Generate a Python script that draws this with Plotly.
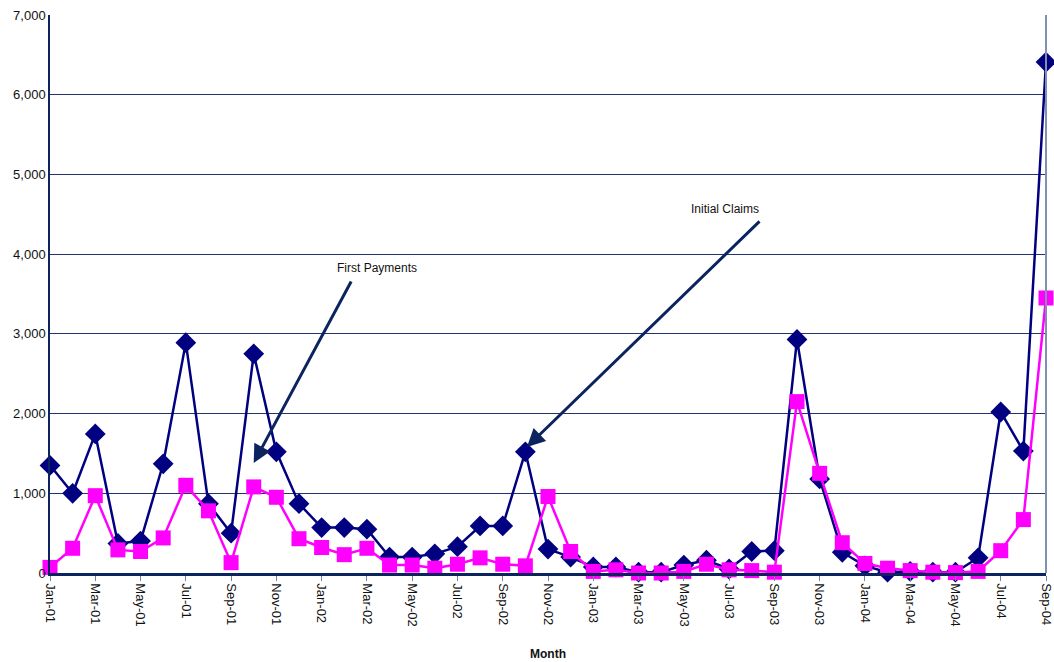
import plotly.graph_objects as go

months = ["Jan-01","Feb-01","Mar-01","Apr-01","May-01","Jun-01","Jul-01","Aug-01","Sep-01","Oct-01","Nov-01","Dec-01",
          "Jan-02","Feb-02","Mar-02","Apr-02","May-02","Jun-02","Jul-02","Aug-02","Sep-02","Oct-02","Nov-02","Dec-02",
          "Jan-03","Feb-03","Mar-03","Apr-03","May-03","Jun-03","Jul-03","Aug-03","Sep-03","Oct-03","Nov-03","Dec-03",
          "Jan-04","Feb-04","Mar-04","Apr-04","May-04","Jun-04","Jul-04","Aug-04","Sep-04"]

initial_claims = [1350, 1000, 1745, 370, 400, 1370, 2890, 870, 500, 2750, 1520, 870,
                  570, 570, 550, 200, 200, 240, 330, 590, 590, 1520, 300, 200,
                  75, 75, 10, 10, 100, 160, 50, 270, 280, 2930, 1180, 260,
                  90, 10, 20, 10, 10, 190, 2020, 1530, 6410]

first_payments = [70, 310, 970, 290, 270, 440, 1100, 780, 130, 1080, 950, 430,
                  320, 230, 310, 100, 100, 60, 110, 190, 110, 90, 960, 270,
                  20, 40, 0, 0, 20, 110, 40, 30, 10, 2150, 1250, 380,
                  120, 60, 30, 10, 5, 20, 280, 670, 3450]

tick_labels = months[::2]

navy = "#000080"
magenta = "#FF00FF"
arrow_col = "#0B2460"

fig = go.Figure()
fig.add_trace(go.Scatter(x=months, y=initial_claims, mode="lines+markers", name="Initial Claims",
                         line=dict(color=navy, width=2.5),
                         marker=dict(symbol="diamond", size=16, color=navy),
                         cliponaxis=False))
fig.add_trace(go.Scatter(x=months, y=first_payments, mode="lines+markers", name="First Payments",
                         line=dict(color=magenta, width=2.5),
                         marker=dict(symbol="square", size=15, color=magenta),
                         cliponaxis=False))

fig.update_layout(
    width=1054, height=662,
    margin=dict(l=50, r=8, t=15, b=89),
    paper_bgcolor="white", plot_bgcolor="white",
    showlegend=False,
    font=dict(family="Liberation Sans, Arial, sans-serif", size=13, color="#111111"),
)
fig.update_xaxes(type="category", range=[0, 44], tickmode="array", tickvals=tick_labels, ticktext=tick_labels,
                 tickangle=90, ticks="outside", ticklen=5, tickcolor="#7080a8", automargin=False,
                 showline=True, linecolor="#0B2460", linewidth=2.5, showgrid=False,
                 tickfont=dict(size=13, color="#111111"),
                 title=dict(text="<b>Month</b>", font=dict(size=12), standoff=24))
fig.update_yaxes(range=[0, 7000], dtick=1000, tickformat=",", showgrid=True, automargin=False,
                 gridcolor="#23336F", gridwidth=1, showline=True, linecolor="#0B2460", linewidth=1.5,
                 zeroline=False, ticks="", tickfont=dict(size=13, color="#111111"))

# right border of plot area
fig.add_shape(type="line", xref="paper", yref="paper", x0=1, x1=1, y0=0, y1=1,
              line=dict(color="#8090B0", width=2))

# annotations
fig.add_annotation(x=9.0, y=1380, ax=13.34, ay=3676, xref="x", yref="y", axref="x", ayref="y",
                   text="", showarrow=True, arrowhead=2, arrowsize=1.2, arrowwidth=3, arrowcolor=arrow_col)
fig.add_annotation(x=14.45, y=3827, xref="x", yref="y", text="First Payments", showarrow=False,
                   font=dict(size=12, color="#111111"))
fig.add_annotation(x=21.07, y=1581, ax=31.41, ay=4429, xref="x", yref="y", axref="x", ayref="y",
                   text="", showarrow=True, arrowhead=2, arrowsize=1.2, arrowwidth=3, arrowcolor=arrow_col)
fig.add_annotation(x=29.82, y=4567, xref="x", yref="y", text="Initial Claims", showarrow=False,
                   font=dict(size=12, color="#111111"))

fig.write_html("out.html", config={"displayModeBar": False},
               post_script="document.body.style.margin='0';document.body.style.overflow='hidden';")
